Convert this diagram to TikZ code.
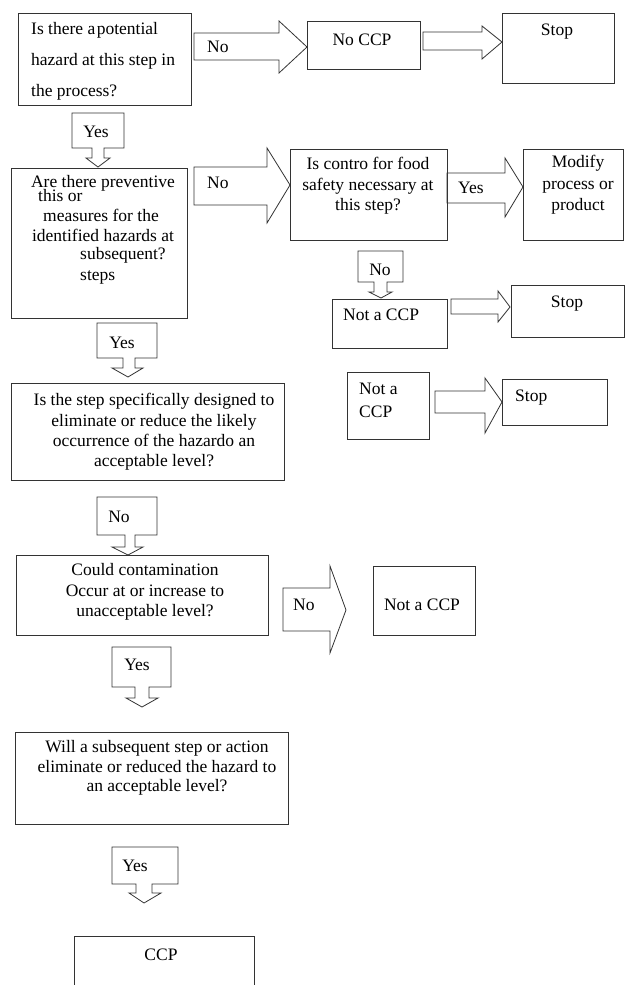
\documentclass[tikz,border=0pt]{standalone}
\usepackage{fontspec}
\setmainfont{Liberation Serif}
\usetikzlibrary{fit}
\tikzset{
  outl/.style={draw=black!80, line width=0.8pt, line join=miter},
  boxst/.style={outl, inner sep=0pt},
  txt/.style={inner sep=0pt, font=\fontsize{17.5}{20.5}\selectfont, align=center},
}
\begin{document}
\begin{tikzpicture}[x=1pt,y=-1pt]
\useasboundingbox[fill=white] (0,0) rectangle (625,985);

% ---------- boxes ----------
\node[boxst, fit={(18,13) (191,105)}] (A) {};
\node[boxst, fit={(307,21) (420,69)}] (NoCCP) {};
\node[boxst, fit={(502,13) (614,83)}] (Stop1) {};
\node[boxst, fit={(11,168) (187,318)}] (B) {};
\node[boxst, fit={(290,149) (447,240)}] (C) {};
\node[boxst, fit={(523,149) (623,240)}] (Mod) {};
\node[boxst, fit={(332,299) (447,348)}] (NC1) {};
\node[boxst, fit={(511,285) (624,337)}] (Stop2) {};
\node[boxst, fit={(347,372) (429,439)}] (NC2) {};
\node[boxst, fit={(502,379) (607,425)}] (Stop3) {};
\node[boxst, fit={(11,383) (284,480)}] (D) {};
\node[boxst, fit={(16,555) (268,635)}] (E) {};
\node[boxst, fit={(373,566) (475,635)}] (NC3) {};
\node[boxst, fit={(15,732) (288,824)}] (F) {};
\node[inner sep=0pt, fit={(75,937) (254,985)}] (CCP) {};
\draw[outl] (CCP.south west) -- (CCP.north west) -- (CCP.north east) -- (CCP.south east);

% ---------- block arrows (right) ----------
\draw[outl] (194,33) -- (279,33) -- (279,21) -- (307,47) -- (279,73) -- (279,60) -- (194,60) -- cycle;
\draw[outl] (423,32) -- (482,32) -- (482,26) -- (502,42) -- (482,59) -- (482,50) -- (423,50) -- cycle;
\draw[outl] (194,167) -- (267,167) -- (267,148) -- (290,185) -- (267,223) -- (267,205) -- (194,205) -- cycle;
\draw[outl] (447,173) -- (505,173) -- (505,158) -- (523,187) -- (505,217) -- (505,203) -- (447,203) -- cycle;
\draw[outl] (451,299) -- (498,299) -- (498,291) -- (510,307) -- (498,322) -- (498,314) -- (451,314) -- cycle;
\draw[outl] (435,391) -- (485,391) -- (485,378) -- (502,402) -- (485,433) -- (485,413) -- (435,413) -- cycle;
\draw[outl] (283,588) -- (330,588) -- (330,566) -- (346,610) -- (330,653) -- (330,631) -- (283,631) -- cycle;

% ---------- down callouts ----------
\draw[outl] (72,113) -- (124,113) -- (124,148) -- (104,148) -- (104,158) -- (110,158) -- (98,167) -- (86,158) -- (92,158) -- (92,148) -- (72,148) -- cycle;
\draw[outl] (97,323) -- (157,323) -- (157,358) -- (135,358) -- (135,368) -- (143,368) -- (128,377) -- (112,368) -- (123,368) -- (123,358) -- (97,358) -- cycle;
\draw[outl] (358,251) -- (403,251) -- (403,282) -- (387,282) -- (387,292) -- (392,292) -- (381,298) -- (369,292) -- (374,292) -- (374,282) -- (358,282) -- cycle;
\draw[outl] (97,497) -- (157,497) -- (157,535) -- (135,535) -- (135,547) -- (143,547) -- (128,555) -- (112,547) -- (125,547) -- (125,535) -- (97,535) -- cycle;
\draw[outl] (112,647) -- (171,647) -- (171,687) -- (149,687) -- (149,698) -- (158,698) -- (142,707) -- (126,698) -- (135,698) -- (135,687) -- (112,687) -- cycle;
\draw[outl] (112,847) -- (178,847) -- (178,884) -- (152,884) -- (152,893) -- (161,893) -- (144,903) -- (129,893) -- (136,893) -- (136,884) -- (112,884) -- cycle;

% ---------- texts ----------
\node[txt, align=left, anchor=west, font=\fontsize{17.5}{31}\selectfont] (At) at (31,61)
  {Is there a\kern1.5pt potential\\hazard at this step in\\the process?};
\node[txt, anchor=west] (No1) at (207,47) {No};
\node[txt] (NoCCPt) at (362,40) {No CCP};
\node[txt] (Stop1t) at (557,32) {Stop};
\node[txt] (Y1) at (96,132) {Yes};

\node[txt] (Bt1) at (103,183) {Are there preventive};
\node[txt, anchor=west] (Bt2) at (38,196) {this or};
\node[txt] (Bt3) at (101,215) {measures for the};
\node[txt] (Bt4) at (103,235) {identified hazards at};
\node[txt, anchor=west] (Bt5) at (80,255) {subsequent?};
\node[txt, anchor=west] (Bt6) at (80,277) {steps};
\node[txt, anchor=west] (No2) at (207,183) {No};

\node[txt] (Ct) at (368,186) {Is contro for food\\safety necessary at\\this step?};
\node[txt, anchor=west] (Y2) at (458,188) {Yes};
\node[txt, font=\fontsize{17.5}{21.5}\selectfont] (Modt) at (578,185) {Modify\\process or\\product};
\node[txt] (No3) at (380,270) {No};
\node[txt, anchor=west] (NC1t) at (343,315) {Not a CCP};
\node[txt] (Stop2t) at (567,304) {Stop};
\node[txt, align=left, anchor=west, font=\fontsize{17.5}{23}\selectfont] (NC2t) at (359,400) {Not a\\CCP};
\node[txt, anchor=west] (Stop3t) at (515,398) {Stop};

\node[txt] (Y3) at (122,343) {Yes};
\node[txt, font=\fontsize{17.5}{20.3}\selectfont] (Dt) at (154,432)
  {Is the step specifically designed to\\eliminate or reduce the likely\\occurrence of the hazardo an\\acceptable level?};
\node[txt] (No4) at (119,517) {No};
\node[txt] (Et) at (145,592) {Could contamination\\Occur at or increase to\\unacceptable level?};
\node[txt, anchor=west] (No5) at (293,605) {No};
\node[txt] (NC3t) at (422,605) {Not a CCP};
\node[txt] (Y4) at (137,665) {Yes};
\node[txt, font=\fontsize{17.5}{19.5}\selectfont] (Ft) at (157,768)
  {Will a subsequent step or action\\eliminate or reduced the hazard to\\an acceptable level?};
\node[txt] (Y5) at (135,866) {Yes};
\node[txt] (CCPt) at (161,955) {CCP};
\end{tikzpicture}
\end{document}
